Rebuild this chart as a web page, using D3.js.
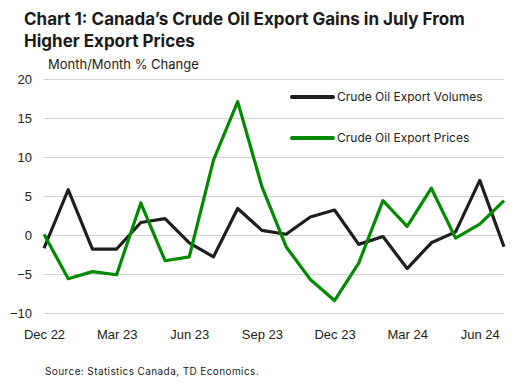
<!DOCTYPE html>
<html>
<head>
<meta charset="utf-8">
<script src="https://cdn.jsdelivr.net/npm/d3@7"></script>
<style>
  body { margin: 0; background: #fff; }
  svg { display: block; font-family: Inter, "Open Sans", sans-serif; }
</style>
</head>
<body>
<svg id="chart" width="516" height="385"></svg>
<script>
// months from Dec 22 to Jul 24
var months = ['Dec 22', 'Jan 23', 'Feb 23', 'Mar 23', 'Apr 23', 'May 23', 'Jun 23',
    'Jul 23', 'Aug 23', 'Sep 23', 'Oct 23', 'Nov 23', 'Dec 23', 'Jan 24', 'Feb 24',
    'Mar 24', 'Apr 24', 'May 24', 'Jun 24', 'Jul 24'];

var volumes = [-1.7, 5.8, -1.8, -1.8, 1.6, 2.1, -1.0, -2.8, 3.4, 0.6,
    0.1, 2.3, 3.2, -1.2, -0.2, -4.3, -1.0, 0.4, 7.0, -1.5];

var prices = [0.1, -5.6, -4.7, -5.1, 4.1, -3.3, -2.8, 9.6, 17.1, 6.2,
    -1.5, -5.7, -8.4, -3.6, 4.4, 1.1, 6.0, -0.4, 1.4, 4.4];

var yTicks = [-10, -5, 0, 5, 10, 15, 20];
var xTickLabels = ['Dec 22', 'Mar 23', 'Jun 23', 'Sep 23', 'Dec 23', 'Mar 24', 'Jun 24'];

var series = [
    {name: 'Crude Oil Export Volumes', values: volumes, color: '#1e1e1e'},
    {name: 'Crude Oil Export Prices', values: prices, color: '#008a00'}
];

var svg = d3.select('#chart');
var m = {left: 44, right: 504, top: 79, bottom: 313};

var x = d3.scalePoint().domain(months).range([m.left, m.right]);
var y = d3.scaleLinear().domain([-10, 20]).range([m.bottom, m.top]);

// title
var title = svg.append('text')
    .style('font-size', '17px').style('font-weight', 700).attr('fill', '#1a1a1a');
title.append('tspan').attr('x', 24).attr('y', 25)
    .text('Chart 1: Canada\u2019s Crude Oil Export Gains in July From');
title.append('tspan').attr('x', 24).attr('y', 47)
    .text('Higher Export Prices');

svg.append('text')
    .attr('x', 48).attr('y', 69)
    .style('font-size', '13px').attr('fill', '#222')
    .text('Month/Month % Change');

// grid + y axis
var yAxis = d3.axisLeft(y).tickValues(yTicks).tickSize(-(m.right - m.left)).tickPadding(12);
var gy = svg.append('g').attr('transform', 'translate(' + m.left + ',0)').call(yAxis);
gy.select('.domain').remove();
gy.selectAll('.tick line').attr('stroke', '#d2d2d2');
gy.selectAll('.tick text').style('font-size', '13px').attr('fill', '#222');

// x axis
var xAxis = d3.axisBottom(x).tickValues(xTickLabels).tickSize(0).tickPadding(14);
var gx = svg.append('g').attr('transform', 'translate(0,' + (m.bottom + 3) + ')').call(xAxis);
gx.select('.domain').remove();
gx.selectAll('.tick text').style('font-size', '13px').attr('fill', '#222');

// lines
var line = d3.line()
    .x(function(d, i) { return x(months[i]); })
    .y(function(d) { return y(d); });

svg.selectAll('path.series')
    .data(series)
    .enter().append('path')
        .attr('class', 'series')
        .attr('d', function(d) { return line(d.values); })
        .attr('fill', 'none')
        .attr('stroke', function(d) { return d.color; })
        .attr('stroke-width', 3.2)
        .attr('stroke-linejoin', 'round');

// legend
var legend = svg.selectAll('g.legend')
    .data(series)
    .enter().append('g')
        .attr('class', 'legend')
        .attr('transform', function(d, i) { return 'translate(292,' + (97 + i * 41) + ')'; });
legend.append('line')
    .attr('x1', 0).attr('x2', 41)
    .attr('stroke', function(d) { return d.color; })
    .attr('stroke-width', 4).attr('stroke-linecap', 'round');
legend.append('text')
    .attr('x', 45).attr('dy', '0.35em')
    .style('font-size', '12px').attr('fill', '#222')
    .text(function(d) { return d.name; });

svg.append('text')
    .attr('x', 45).attr('y', 375)
    .style('font-size', '10px').style('letter-spacing', '0.4px').attr('fill', '#222')
    .text('Source: Statistics Canada, TD Economics.');
</script>
</body>
</html>
